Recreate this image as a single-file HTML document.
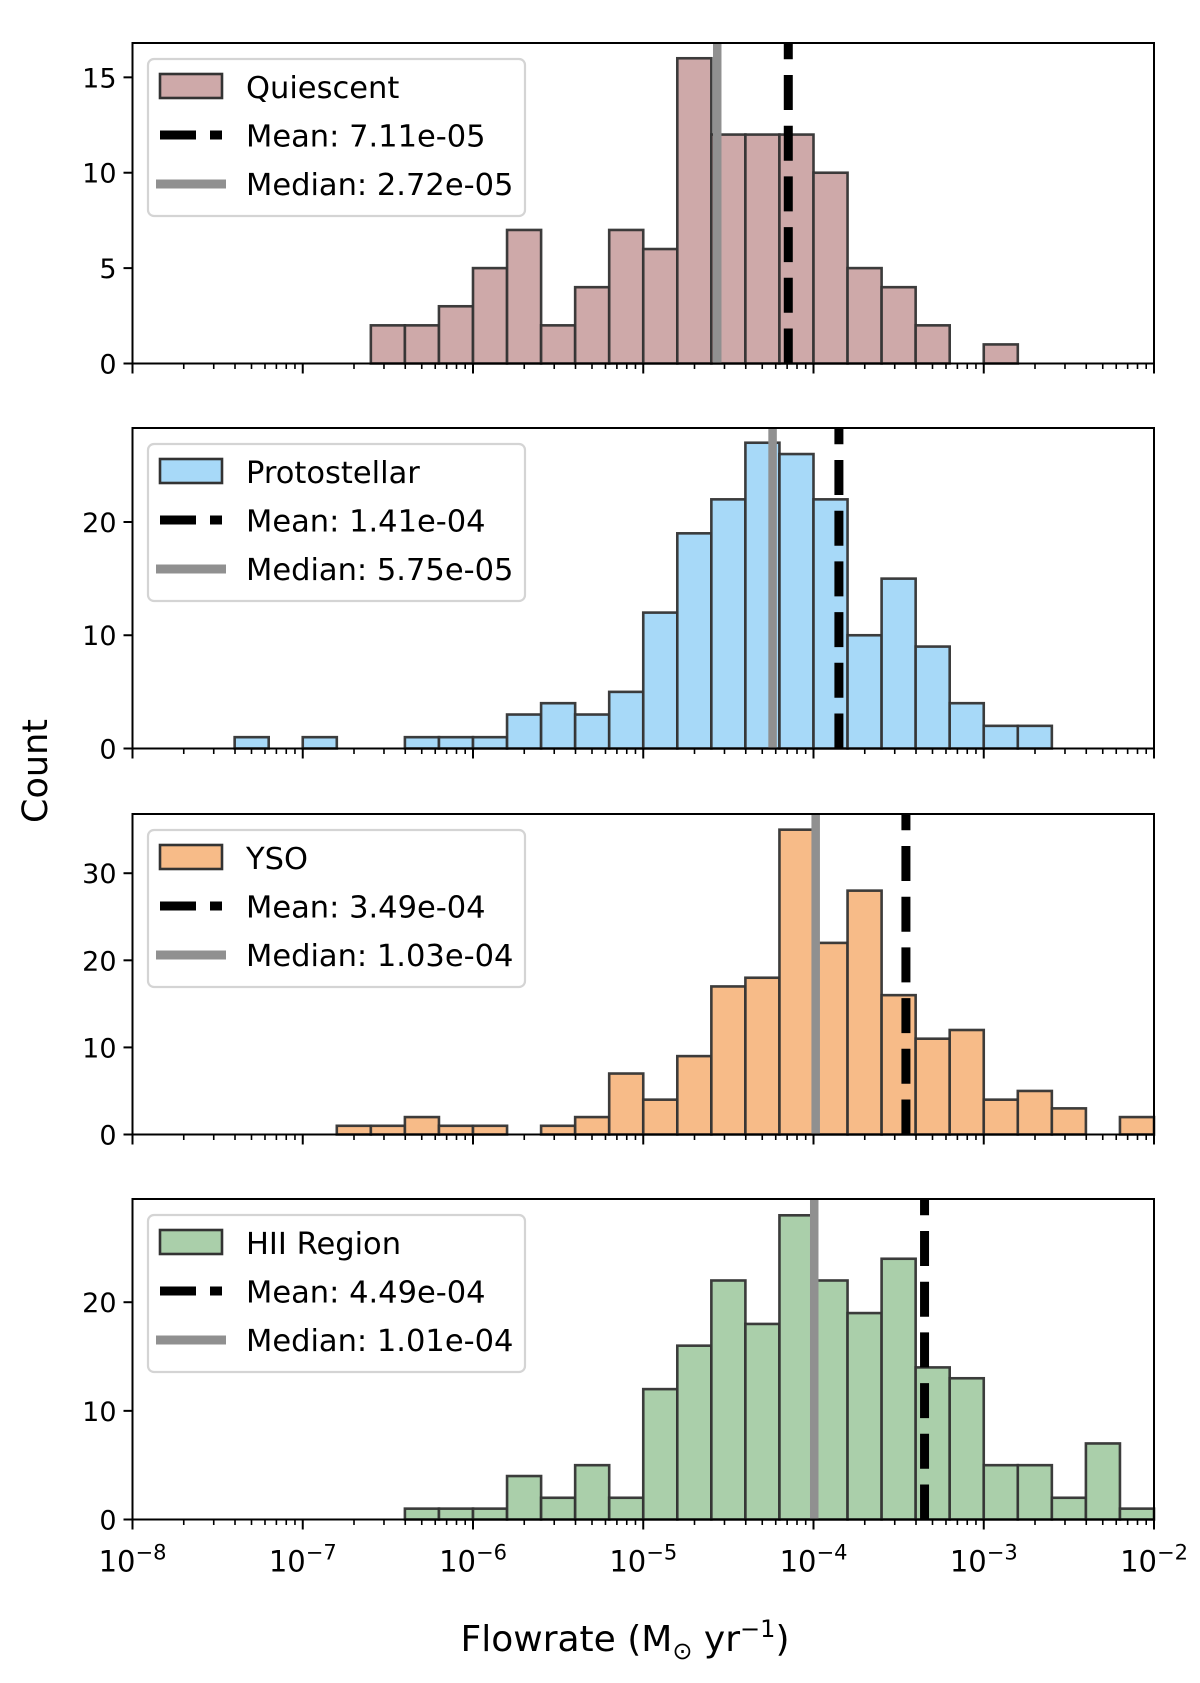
<!DOCTYPE html>
<html><head><meta charset="utf-8"><style>
html,body{margin:0;padding:0;background:#fff}
svg{display:block}
text{font-family:"DejaVu Sans","Liberation Sans",sans-serif;fill:#000}
</style></head><body>
<svg id="chart" width="1200" height="1683" viewBox="0 0 1200 1683" xmlns="http://www.w3.org/2000/svg"></svg>
<script>
const binEdgesLog = [-8,-7.8,-7.6,-7.4,-7.2,-7,-6.8,-6.6,-6.4,-6.2,-6,-5.8,-5.6,-5.4,-5.2,-5,-4.8,-4.6,-4.4,-4.2,-4,-3.8,-3.6,-3.4,-3.2,-3,-2.8,-2.6,-2.4,-2.2,-2];
const panelNames = ["Quiescent","Protostellar","YSO","HII Region"];
const quiescentCounts = [0,0,0,0,0,0,0,2,2,3,5,7,2,4,7,6,16,12,12,12,10,5,4,2,0,1,0,0,0,0];
const protostellarCounts = [0,0,0,1,0,1,0,0,1,1,1,3,4,3,5,12,19,22,27,26,22,10,15,9,4,2,2,0,0,0];
const ysoCounts = [0,0,0,0,0,0,1,1,2,1,1,0,1,2,7,4,9,17,18,35,22,28,16,11,12,4,5,3,0,2];
const hiiCounts = [0,0,0,0,0,0,0,0,1,1,1,4,2,5,2,12,16,22,18,28,22,19,24,14,13,5,5,2,7,1];
const meanValues = [7.11e-5,1.41e-4,3.49e-4,4.49e-4];
const medianValues = [2.72e-5,5.75e-5,1.03e-4,1.01e-4];
const meanLabels = ["7.11e-05","1.41e-04","3.49e-04","4.49e-04"];
const medianLabels = ["2.72e-05","5.75e-05","1.03e-04","1.01e-04"];
const yMaxes = [16.8,28.3,36.8,29.5];
const yTicks = [[0,5,10,15],[0,10,20],[0,10,20,30],[0,10,20]];
const xTickExps = [-8,-7,-6,-5,-4,-3,-2];

const allCounts=[quiescentCounts,protostellarCounts,ysoCounts,hiiCounts];
const fills=["#cea9a9","#a7d9f8","#f7bb88","#aacfaa"];
const NS="http://www.w3.org/2000/svg";
const svg=document.getElementById('chart');
const X0=132.5,X1=1154,LMIN=-8,LMAX=-2;
const tops=[43,428,814,1199],H=320.5;
function xs(l){return X0+(l-LMIN)/(LMAX-LMIN)*(X1-X0);}
function mk(tag,attrs,parent){const e=document.createElementNS(NS,tag);for(const k in attrs)e.setAttribute(k,attrs[k]);(parent||svg).appendChild(e);return e;}

for(let p=0;p<4;p++){
  const top=tops[p],bot=top+H,ymax=yMaxes[p];
  const ys=v=>bot-v/ymax*H;
  const g=mk('g',{});
  
  
  const cnt=allCounts[p];
  for(let i=0;i<cnt.length;i++){
    const xa=xs(binEdgesLog[i]),xb=xs(binEdgesLog[i+1]);
    const r=mk('rect',{x:xa,y:ys(cnt[i]),width:xb-xa,height:bot-ys(cnt[i]),fill:fills[p],stroke:"#333",'stroke-width':2.6,'stroke-opacity':0.95},g);
    
    
  }
  const xm=xs(Math.log10(medianValues[p]));
  const med=mk('line',{x1:xm,x2:xm,y1:top,y2:bot,stroke:"#909090",'stroke-width':8.5},g);
  
  
  const xmean=xs(Math.log10(meanValues[p]));
  const mn=mk('line',{x1:xmean,x2:xmean,y1:bot,y2:top,stroke:"#000",'stroke-width':9,'stroke-dasharray':"35 15.7"},g);
  
  
  const fr=mk('rect',{x:X0,y:top,width:X1-X0,height:H,fill:"none",stroke:"#000",'stroke-width':2},g);
  
  
  for(const t of yTicks[p]){
    const y=ys(t);
    mk('line',{x1:X0-9,x2:X0,y1:y,y2:y,stroke:"#000",'stroke-width':2},g);
    const tx=mk('text',{x:X0-16,y:y+10,'text-anchor':'end','font-size':27},g);
    tx.textContent=t;
    
    
  }
  for(let e=-8;e<=-2;e++){
    const x=xs(e);
    mk('line',{x1:x,x2:x,y1:bot,y2:bot+10,stroke:"#000",'stroke-width':2},g);
    if(e<-2)for(let m=2;m<=9;m++){const xm2=xs(e+Math.log10(m));mk('line',{x1:xm2,x2:xm2,y1:bot,y2:bot+5.5,stroke:"#000",'stroke-width':1.6},g);}
  }
  if(p===3){
    for(const e of xTickExps){
      const tx=mk('text',{x:xs(e),y:bot+52,'text-anchor':'middle','font-size':29},g);
      tx.innerHTML='10<tspan dy="-12" font-size="21">\u2212'+Math.abs(e)+'</tspan>';
      
      
    }
  }
  const lg=mk('g',{},g);
  
  
  const ly=top+16;
  mk('rect',{x:148,y:ly,width:377,height:157,rx:6,fill:"#fff",'fill-opacity':0.85,stroke:"#d4d4d4",'stroke-width':2.2},lg);
  mk('rect',{x:160,y:ly+15,width:62,height:24,fill:fills[p],stroke:"#333",'stroke-width':2.6},lg);
  mk('line',{x1:160,x2:196,y1:ly+76,y2:ly+76,stroke:"#000",'stroke-width':9},lg);
  mk('line',{x1:210,x2:222,y1:ly+76,y2:ly+76,stroke:"#000",'stroke-width':9},lg);
  mk('line',{x1:156,x2:226,y1:ly+125,y2:ly+125,stroke:"#909090",'stroke-width':9},lg);
  const labels=[panelNames[p],'Mean: '+meanLabels[p],'Median: '+medianLabels[p]];
  labels.forEach((s,i)=>{const t=mk('text',{x:246,y:ly+39+i*48.5,'font-size':30.5},lg);t.textContent=s;
    
    });
}
const yl=mk('text',{x:0,y:0,'text-anchor':'middle','font-size':35,transform:'translate(47,771) rotate(-90)'});
yl.textContent='Count';


const xl=mk('text',{x:625,y:1651,'text-anchor':'middle','font-size':36});
xl.innerHTML='Flowrate (M<tspan dy="8" font-size="24">\u2299</tspan><tspan dy="-8"> yr</tspan><tspan dy="-14" font-size="24">\u22121</tspan><tspan dy="14">)</tspan>';


</script>
</body></html>
